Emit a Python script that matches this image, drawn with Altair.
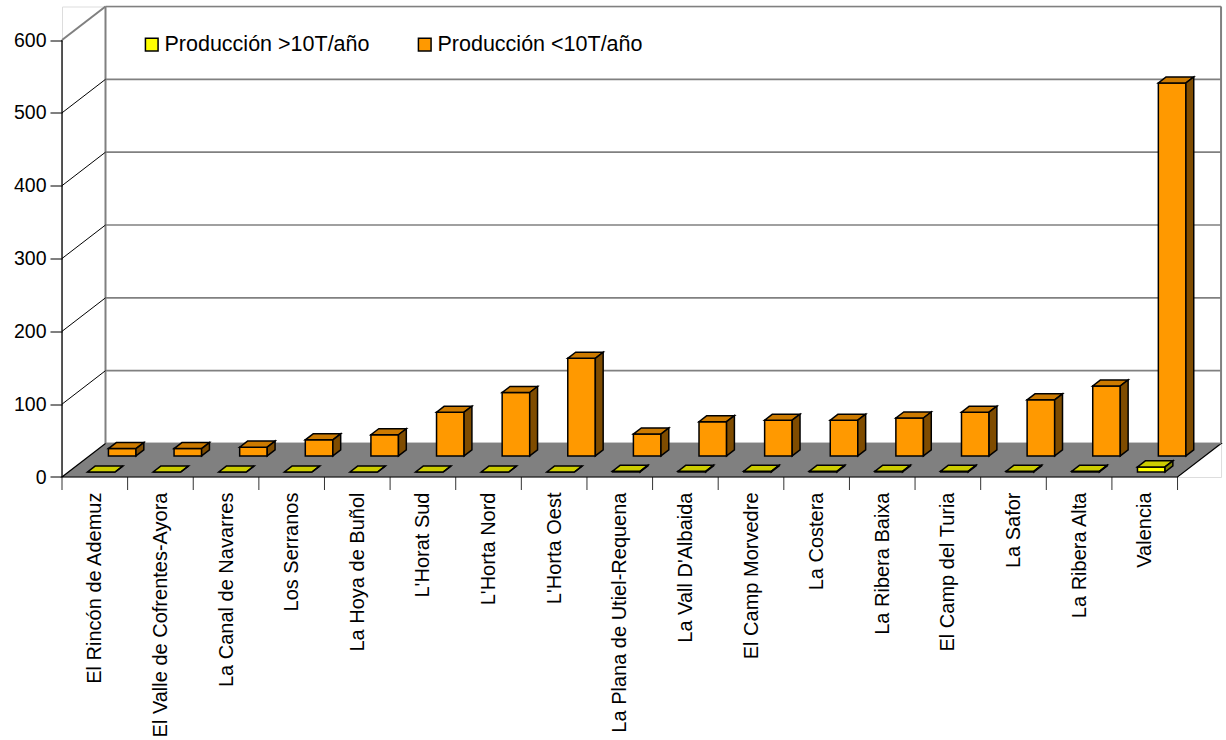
import json
import altair as alt
import pandas as pd

# ---------------- data ----------------
categories = [
    "El Rincón de Ademuz", "El Valle de Cofrentes-Ayora", "La Canal de Navarres",
    "Los Serranos", "La Hoya de Buñol", "L'Horat Sud", "L'Horta Nord", "L'Horta Oest",
    "La Plana de Utiel-Requena", "La Vall D'Albaida", "El Camp Morvedre", "La Costera",
    "La Ribera Baixa", "El Camp del Turia", "La Safor", "La Ribera Alta", "Valencia",
]
prod_mas_10 = [0, 0, 0, 0, 0, 0, 0, 0, 1, 1, 1, 1, 1, 1, 1, 1, 7]
prod_menos_10 = [10, 10, 12, 22, 29, 60, 87, 134, 30, 47, 49, 49, 52, 60, 77, 96, 512]
series_names = ["Producción >10T/año", "Producción <10T/año"]
y_ticks = [0, 100, 200, 300, 400, 500, 600]

# ---------------- pseudo-3D geometry (data units) ----------------
PX_X = 65.62          # pixels per category
PX_Y = 0.72833        # pixels per unit of value
DEPTH_X = 43.5 / PX_X
DEPTH_Y = 33.5 / PX_Y
N = len(categories)
X_MAX = N + DEPTH_X
Y_MAX = y_ticks[-1] + DEPTH_Y
W = X_MAX * PX_X
H = Y_MAX * PX_Y
BAR_W = 0.42
ROWS = [(0.15, 0.33), (0.63, 0.81)]
FRONT = ["#FFFF00", "#FF9900"]
TOP = ["#CCCC00", "#CC7A00"]
SIDE = ["#808000", "#7F4C00"]
FONT = "Liberation Sans"

xs = alt.Scale(domain=[0, X_MAX], nice=False, zero=False)
ys = alt.Scale(domain=[0, Y_MAX], nice=False, zero=False)

label_pos = [i + 0.5 for i in range(N)]
label_expr = json.dumps(categories, ensure_ascii=False) + "[floor(datum.value)]"
X_AXIS = alt.Axis(values=label_pos, labelExpr=label_expr, ticks=False, tickSize=0,
                  domain=False, grid=False, labelAngle=270, labelAlign="right",
                  labelBaseline="middle", labelPadding=15, labelFontSize=20,
                  labelFont=FONT, labelColor="black", labelOverlap=False,
                  labelFlush=False, labelLimit=0, title=None)
Y_AXIS = alt.Axis(values=y_ticks, domain=False, grid=False, tickSize=12,
                  tickColor="black", tickWidth=1, labelFontSize=19.5, labelFont=FONT,
                  labelColor="black", labelPadding=4, format="d", title=None)


def X(field):
    return alt.X(field, scale=xs, axis=X_AXIS, title=None)


def Y(field):
    return alt.Y(field, scale=ys, axis=Y_AXIS, title=None)


front_rows, top_rows, side_rows = [], [], []
for s, values in enumerate([prod_mas_10, prod_menos_10]):
    a, b = ROWS[s]
    for i, v in enumerate(values):
        xl = i + 0.5 - BAR_W / 2
        xr = i + 0.5 + BAR_W / 2
        key = f"{s}-{i}"
        front_rows.append(dict(serie=series_names[s], x=xl + a * DEPTH_X, x2=xr + a * DEPTH_X,
                               y=a * DEPTH_Y, y2=v + a * DEPTH_Y))
        for d in (a, b):
            top_rows.append(dict(key=key, col=TOP[s], y=v + d * DEPTH_Y,
                                 x=xl + d * DEPTH_X, x2=xr + d * DEPTH_X))
            side_rows.append(dict(key=key, col=SIDE[s], x=xr + d * DEPTH_X,
                                  y=d * DEPTH_Y, y2=v + d * DEPTH_Y))

front_df = pd.DataFrame(front_rows)
top_df = pd.DataFrame(top_rows)
side_df = pd.DataFrame(side_rows)

# walls
back_grid = pd.DataFrame(dict(x=[DEPTH_X] * len(y_ticks), x2=[N + DEPTH_X] * len(y_ticks),
                              y=[v + DEPTH_Y for v in y_ticks]))
back_edges = pd.DataFrame(dict(x=[DEPTH_X, N + DEPTH_X], y=[DEPTH_Y] * 2,
                               y2=[y_ticks[-1] + DEPTH_Y] * 2))
side_grid = pd.DataFrame(dict(x=[0] * 6, x2=[DEPTH_X] * 6, y=y_ticks[1:],
                              y2=[v + DEPTH_Y for v in y_ticks[1:]],
                              col=["black"] * 5 + ["#808080"],
                              w=[1] * 5 + [2]))
floor_df = pd.DataFrame(dict(y=[0, DEPTH_Y], x=[0, DEPTH_X], x2=[N, N + DEPTH_X]))
axis_df = pd.DataFrame(dict(x=[0], y=[0], y2=[y_ticks[-1]]))
tick_df = pd.DataFrame(dict(x=list(range(N + 1)), y=[0] * (N + 1), y2=[-13 / PX_Y] * (N + 1)))

# ---------------- layers ----------------
y_axis_l = alt.Chart(axis_df).mark_rule(color="black", strokeWidth=1.3).encode(
    x=X("x:Q"), y=Y("y:Q"), y2="y2:Q")
ticks_l = alt.Chart(tick_df).mark_rule(color="#333333", strokeWidth=1).encode(
    x=X("x:Q"), y=Y("y:Q"), y2="y2:Q")
back_grid_l = alt.Chart(back_grid).mark_rule(color="#808080", strokeWidth=1.6).encode(
    x=X("x:Q"), x2="x2:Q", y=Y("y:Q"))
back_edges_l = alt.Chart(back_edges).mark_rule(color="#808080", strokeWidth=2).encode(
    x=X("x:Q"), y=Y("y:Q"), y2="y2:Q")
side_grid_l = alt.Chart(side_grid).mark_rule().encode(
    x=X("x:Q"), x2="x2:Q", y=Y("y:Q"), y2="y2:Q",
    color=alt.Color("col:N", scale=None), strokeWidth=alt.StrokeWidth("w:Q", scale=None))
floor_l = alt.Chart(floor_df).mark_area(orient="horizontal", fill="#808080",
                                        stroke="black", strokeWidth=1.2).encode(
    y=Y("y:Q"), x=X("x:Q"), x2="x2:Q")
back_floor_edge = alt.Chart(back_grid.iloc[[0]]).mark_rule(color="#808080", strokeWidth=1.6).encode(
    x=X("x:Q"), x2="x2:Q", y=Y("y:Q"))

front_l = alt.Chart(front_df).mark_rect(stroke="black", strokeWidth=1.5, opacity=1).encode(
    x=X("x:Q"), x2="x2:Q", y=Y("y:Q"), y2="y2:Q",
    color=alt.Color("serie:N", scale=alt.Scale(domain=series_names, range=FRONT),
                    legend=alt.Legend(orient="none", legendX=79, legendY=27,
                                      direction="horizontal", title=None,
                                      symbolType="square", symbolSize=160,
                                      symbolStrokeColor="black", symbolStrokeWidth=1.5,
                                      symbolOpacity=1, labelFontSize=21.5, labelFont=FONT,
                                      labelColor="black", labelOffset=2,
                                      columnPadding=44, labelLimit=0)))
top_l = alt.Chart(top_df).mark_area(orient="horizontal", stroke="black", strokeWidth=1.5).encode(
    y=Y("y:Q"), x=X("x:Q"), x2="x2:Q",
    detail="key:N", fill=alt.Fill("col:N", scale=None))
side_l = alt.Chart(side_df).mark_area(orient="vertical", stroke="black", strokeWidth=1.5).encode(
    x=X("x:Q"), y=Y("y:Q"), y2="y2:Q",
    detail="key:N", fill=alt.Fill("col:N", scale=None))

chart = alt.layer(
    y_axis_l, ticks_l, back_grid_l, back_edges_l, side_grid_l, floor_l, back_floor_edge,
    front_l, top_l, side_l,
).properties(
    width=W, height=H,
    autosize=alt.AutoSizeParams(type="none"),
    padding={"left": 62, "top": 477 - H, "right": 1226 - 62 - W, "bottom": 740 - 477},
    background="white",
).configure_view(stroke=None).configure(font=FONT)

chart.save("out.html", embed_options={"renderer": "svg", "actions": False})
